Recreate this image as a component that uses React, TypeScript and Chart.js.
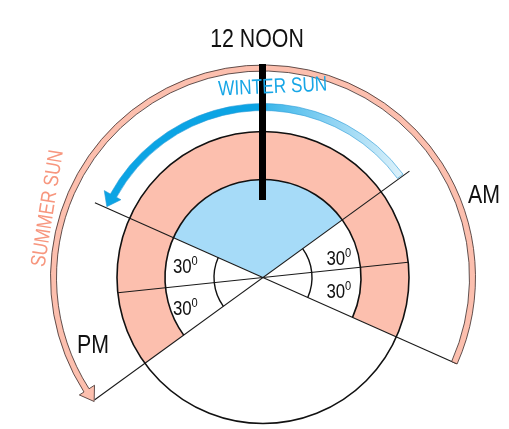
import React, { useEffect, useRef } from 'react';
import { Chart, registerables } from 'chart.js';

Chart.register(...registerables);

// Sectors of the day, listed clockwise starting at the noon sector (degrees of arc)
const sectorNames = ['Noon', 'AM', 'Night', 'PM'];
const sectorDegrees = [120, 60, 120, 60];
// outer ring (daylight band) and inner core colours per sector
const ringColors = ['#FCBFAE', '#FCBFAE', '#FFFFFF', '#FCBFAE'];
const coreColors = ['#A6DBF8', '#FFFFFF', '#FFFFFF', '#FFFFFF'];
// angle (math degrees, ccw from east) where the noon sector starts
const noonSectorStart = 156;
// divider line angles (math degrees)
const dividerAngles = [36, 156, 6];
const angleLabels = ['30', '30', '30', '30'];
const titleText = '12 NOON';
const amText = 'AM';
const pmText = 'PM';
const winterText = 'WINTER SUN';
const summerText = 'SUMMER SUN';

const FONT = '"Liberation Sans", Arial, sans-serif';
const NARROW = 0.82;

const rad = (d: number) => (d * Math.PI) / 180;

function drawText(
  ctx: CanvasRenderingContext2D,
  text: string,
  x: number,
  y: number,
  size: number,
  color: string,
  align: CanvasTextAlign = 'left',
  rotDeg = 0,
  baseline: CanvasTextBaseline = 'alphabetic'
) {
  ctx.save();
  ctx.translate(x, y);
  ctx.rotate(rad(rotDeg));
  ctx.scale(NARROW, 1);
  ctx.font = `${size}px ${FONT}`;
  ctx.fillStyle = color;
  ctx.textAlign = align;
  ctx.textBaseline = baseline;
  ctx.fillText(text, 0, 0);
  ctx.restore();
}

const diagramPlugin = {
  id: 'sunDiagram',
  afterDatasetsDraw(chart: any) {
    const ctx: CanvasRenderingContext2D = chart.ctx;
    const a0 = chart.getDatasetMeta(0).data[0];
    const cx: number = a0.x;
    const cy: number = a0.y;
    const R: number = a0.outerRadius;
    const r: number = a0.innerRadius;
    const P = (a: number, rr: number): [number, number] => [
      cx + rr * Math.cos(rad(a)),
      cy - rr * Math.sin(rad(a)),
    ];
    // arc from math angle a1 to a2
    const arc = (rr: number, a1: number, a2: number) => {
      ctx.arc(cx, cy, rr, -rad(a1), -rad(a2), a2 > a1);
    };

    ctx.save();
    ctx.lineCap = 'butt';

    // divider lines
    ctx.strokeStyle = '#1a1a1a';
    ctx.lineWidth = 1.1;
    const [lA, lB, lM] = dividerAngles;
    const seg = (p1: [number, number], p2: [number, number]) => {
      ctx.beginPath();
      ctx.moveTo(p1[0], p1[1]);
      ctx.lineTo(p2[0], p2[1]);
      ctx.stroke();
    };
    seg(P(lA + 180, 208), P(lA, 181));
    seg(P(lB, 184), P(lB - 180, 212));
    seg(P(lM + 180, R), P(lM, R));

    // circles
    ctx.strokeStyle = '#111';
    ctx.lineWidth = 1.6;
    ctx.beginPath();
    ctx.arc(cx, cy, R, 0, Math.PI * 2);
    ctx.stroke();
    ctx.beginPath();
    arc(r, lA + 180, lB - 180);
    ctx.stroke();
    ctx.lineWidth = 1.4;
    const rs = r / 2;
    ctx.beginPath();
    arc(rs, lA + 180, lB);
    ctx.stroke();
    ctx.beginPath();
    arc(rs, lA, lB - 180);
    ctx.stroke();

    // summer sun arrow
    const sIn = 206.5, sOut = 212.5, sEnd = 212.6;
    ctx.beginPath();
    arc(sIn, -24, sEnd);
    let p = P(sEnd, 200);
    ctx.lineTo(p[0], p[1]);
    p = P(216.3, 209.5);
    ctx.lineTo(p[0], p[1]);
    p = P(sEnd, 218);
    ctx.lineTo(p[0], p[1]);
    p = P(sEnd, sOut);
    ctx.lineTo(p[0], p[1]);
    arc(sOut, sEnd, -24);
    ctx.closePath();
    ctx.fillStyle = '#FCBFAE';
    ctx.fill();
    ctx.strokeStyle = '#3a2a28';
    ctx.lineWidth = 0.8;
    ctx.stroke();

    // winter sun arrow
    const wIn = 167, wOut = 174, wStart = 36.4, wEnd = 151.3;
    ctx.beginPath();
    arc(wIn, wStart, wEnd);
    p = P(wEnd, 162);
    ctx.lineTo(p[0], p[1]);
    p = P(155.6, 171.5);
    ctx.lineTo(p[0], p[1]);
    p = P(wEnd, 181);
    ctx.lineTo(p[0], p[1]);
    p = P(wEnd, wOut);
    ctx.lineTo(p[0], p[1]);
    arc(wOut, wEnd, wStart);
    ctx.closePath();
    const endP = P(wStart, 170);
    const g = ctx.createLinearGradient(cx, 0, endP[0], 0);
    g.addColorStop(0, '#0CA4E4');
    g.addColorStop(0.04, '#3DB7EA');
    g.addColorStop(0.5, '#8ED3F3');
    g.addColorStop(1, '#DAF0FA');
    ctx.fillStyle = g;
    ctx.fill();
    ctx.strokeStyle = '#2a9ad6';
    ctx.lineWidth = 0.6;
    ctx.stroke();

    // noon bar
    ctx.fillStyle = '#000';
    const top = P(90, 213.5);
    const bot = P(90, 77.5);
    ctx.fillRect(top[0] - 4, top[1], 7, bot[1] - top[1]);

    ctx.restore();

    // texts
    drawText(ctx, titleText, cx - 6, cy - 231, 26, '#111', 'center');
    drawText(ctx, amText, cx + 205, cy - 75, 26, '#111', 'left');
    drawText(ctx, pmText, cx - 186, cy + 75, 26, '#111', 'left');
    drawText(ctx, winterText, cx + 10, cy - 184.5, 21, '#17A6E6', 'center', -2.6);
    drawText(ctx, summerText, cx - 215, cy - 69, 21, '#F7967E', 'center', -81, 'middle');

    const labelPos: Array<[number, number]> = [
      [-90, -4.5],
      [-90, 37.5],
      [63.5, -12.5],
      [63.5, 20.5],
    ];
    angleLabels.forEach((t, i) => {
      const [dx, dy] = labelPos[i];
      drawText(ctx, t, cx + dx, cy + dy, 20.5, '#111', 'left');
      drawText(ctx, '0', cx + dx + 18.5, cy + dy - 8, 13.5, '#111', 'left');
    });
  },
};

export default function App() {
  const ref = useRef<HTMLCanvasElement | null>(null);
  useEffect(() => {
    if (!ref.current) return;
    const chart = new Chart(ref.current, {
      type: 'doughnut',
      data: {
        labels: sectorNames,
        datasets: [
          {
            data: sectorDegrees,
            backgroundColor: ringColors,
            borderWidth: 0,
            weight: 48,
          } as any,
          {
            data: sectorDegrees,
            backgroundColor: coreColors,
            borderWidth: 0,
            weight: 98,
          } as any,
        ],
      },
      options: {
        responsive: false,
        animation: false,
        events: [],
        rotation: noonSectorStart - 90 - 132,
        cutout: 0,
        radius: 146,
        layout: { padding: { left: 117, right: 100, top: 131, bottom: 5 } },
        plugins: {
          legend: { display: false },
          tooltip: { enabled: false },
        },
      } as any,
      plugins: [diagramPlugin],
    });
    return () => chart.destroy();
  }, []);
  return (
    <div style={{ position: 'fixed', left: 0, top: 0, width: 509, height: 429, background: '#fff' }}>
      <canvas ref={ref} width={509} height={429} />
    </div>
  );
}
